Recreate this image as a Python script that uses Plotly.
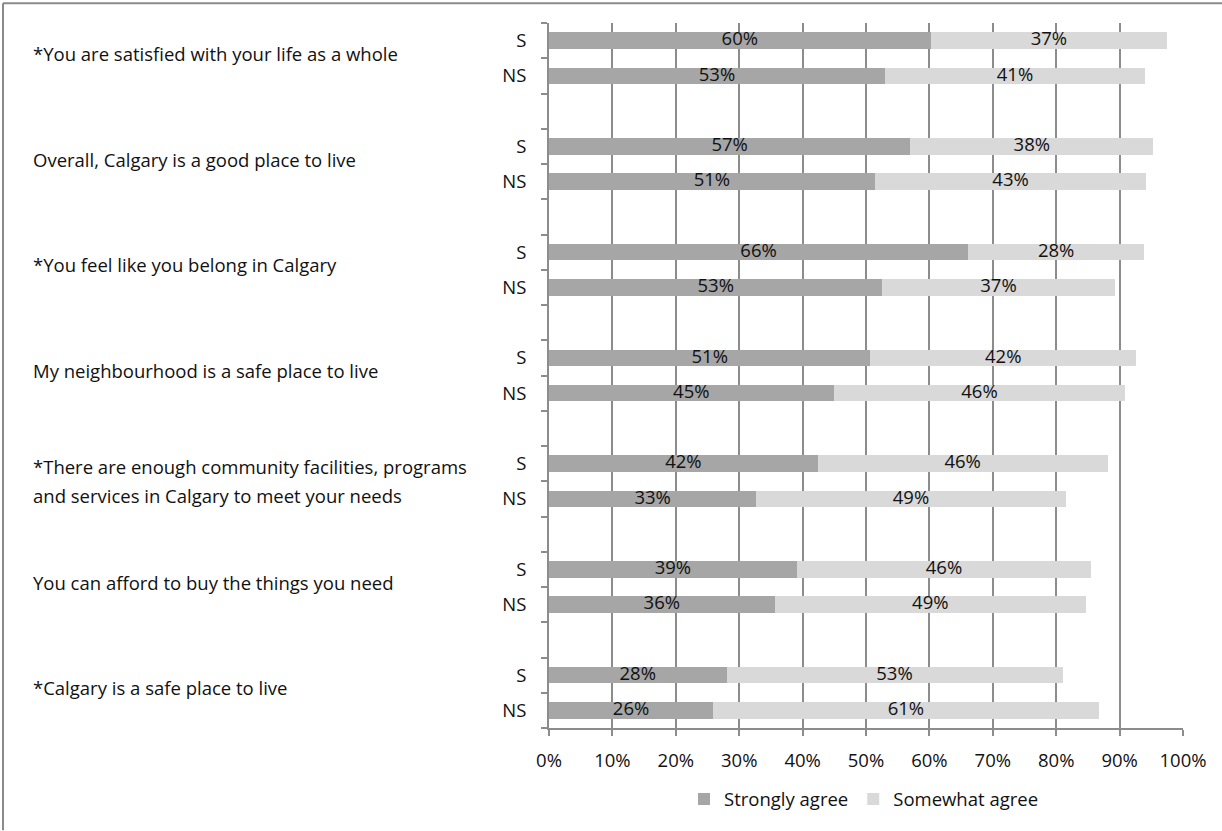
import plotly.graph_objects as go

statements = [
    "*You are satisfied with your life as a whole",
    "Overall, Calgary is a good place to live",
    "*You feel like you belong in Calgary",
    "My neighbourhood is a safe place to live",
    "*There are enough community facilities, programs<br>and services in Calgary to meet your needs",
    "You can afford to buy the things you need",
    "*Calgary is a safe place to live",
]
groups = ["S", "NS"]
# values per statement: [S, NS]
strongly_agree = [[60.2, 53.0], [57.0, 51.4], [66.1, 52.6], [50.7, 44.9],
                  [42.4, 32.7], [39.1, 35.6], [28.0, 25.9]]
somewhat_agree = [[37.3, 41.0], [38.3, 42.8], [27.8, 36.6], [41.9, 46.0],
                  [45.7, 48.8], [46.4, 49.1], [53.0, 60.8]]
x_ticks = [0, 10, 20, 30, 40, 50, 60, 70, 80, 90, 100]

C_STRONG = "#a6a6a6"
C_SOME = "#d9d9d9"
GRID = "#8c8c8c"
FONT = "Open Sans"
FS = 18.5

# positions: each statement occupies 3 slots (S, NS, blank)
ypos, ylab, xs, xw = [], [], [], []
for g in range(len(statements)):
    for j, lab in enumerate(groups):
        ypos.append(g * 3 + j)
        ylab.append(lab)
        xs.append(strongly_agree[g][j])
        xw.append(somewhat_agree[g][j])

fig = go.Figure()
fig.add_trace(go.Bar(y=ypos, x=xs, orientation="h", name="Strongly agree",
                     marker=dict(color=C_STRONG, line=dict(width=0)), width=0.47,
                     hoverinfo="skip"))
fig.add_trace(go.Bar(y=ypos, x=xw, orientation="h", name="Somewhat agree",
                     marker=dict(color=C_SOME, line=dict(width=0)), width=0.47,
                     hoverinfo="skip"))

# data labels centred in segments
mid_x = [v / 2 for v in xs] + [a + b / 2 for a, b in zip(xs, xw)]
txt = [f"{round(v)}%" for v in xs] + [f"{round(v)}%" for v in xw]
fig.add_trace(go.Scatter(x=mid_x, y=ypos + ypos, mode="text", text=txt,
                         textfont=dict(family=FONT, size=FS, color="#111111"),
                         showlegend=False, hoverinfo="skip"))

n_slots = len(statements) * 3 - 1
L, R, T, B = 549, 39, 23, 98
W = 1222 - L - R
H = 831 - T - B

for g, s in enumerate(statements):
    lines = s.split("<br>")
    n = len(lines)
    for k, line in enumerate(lines):
        fig.add_annotation(x=(31 - L) / W, xref="paper", y=g * 3 + 0.5, yref="y",
                           text=line, showarrow=False, xanchor="left", yanchor="middle",
                           yshift=(5 if n == 1 else 0) + ((n - 1) / 2 - k) * 29,
                           font=dict(family=FONT, size=FS, color="#111111"))

# outer frame (top and left edges visible)
fig.add_shape(type="line", xref="paper", yref="paper",
              x0=(3 - L) / W, x1=(1222 - L) / W, y0=1 + (T - 3) / H, y1=1 + (T - 3) / H,
              line=dict(color="#8a8a8a", width=2))
fig.add_shape(type="line", xref="paper", yref="paper",
              x0=(3 - L) / W, x1=(3 - L) / W, y0=1 + (T - 3) / H, y1=-(B + 5) / H,
              line=dict(color="#8a8a8a", width=2))

fig.update_layout(
    barmode="stack",
    width=1222, height=831,
    margin=dict(l=L, r=R, t=T, b=B),
    paper_bgcolor="white", plot_bgcolor="white",
    font=dict(family=FONT, size=FS, color="#111111"),
    showlegend=True,
    legend=dict(orientation="h", x=(684 - L) / W, xanchor="left",
                y=-(805 - (831 - B)) / H, yanchor="middle",
                font=dict(family=FONT, size=FS), traceorder="normal",
                bgcolor="rgba(0,0,0,0)"),
    xaxis=dict(range=[0, 100], tickvals=x_ticks, ticktext=[f"{v}%" for v in x_ticks],
               showgrid=True, gridcolor=GRID, gridwidth=2, zeroline=False,
               showline=True, linecolor=GRID, linewidth=2,
               ticks="outside", ticklen=6, tickcolor=GRID, tickwidth=2,
               ticklabelstandoff=9, fixedrange=True),
    yaxis=dict(range=[n_slots - 0.5, -0.5], tickvals=ypos, ticktext=ylab,
               ticks="outside", ticklen=17, tickcolor="rgba(0,0,0,0)",
               showgrid=False, zeroline=False, showline=True, linecolor=GRID, linewidth=2,
               minor=dict(tickvals=[i - 0.5 for i in range(n_slots + 1)], ticks="outside",
                          ticklen=6, tickcolor=GRID, tickwidth=2, showgrid=False),
               fixedrange=True),
)

fig.write_html("out.html")
